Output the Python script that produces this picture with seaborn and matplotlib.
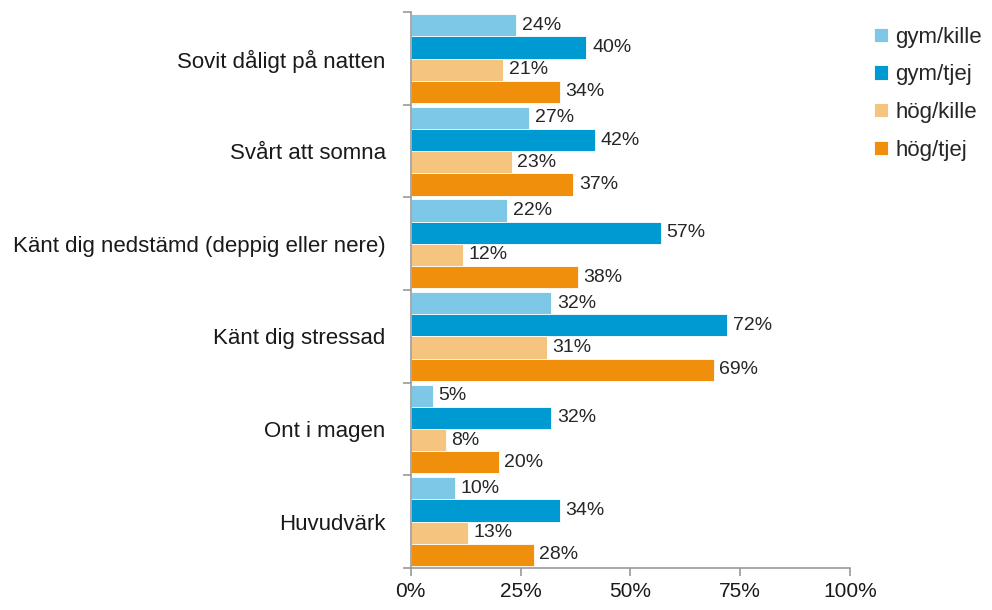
import pandas as pd
import numpy as np
import matplotlib.pyplot as plt
import seaborn as sns

# Data
categories = ["Sovit dåligt på natten", "Svårt att somna",
              "Känt dig nedstämd (deppig eller nere)", "Känt dig stressad",
              "Ont i magen", "Huvudvärk"]
groups = ["gym/kille", "gym/tjej", "hög/kille", "hög/tjej"]
gym_kille = [24, 27, 22, 32, 5, 10]
gym_tjej = [40, 42, 57, 72, 32, 34]
hog_kille = [21, 23, 12, 31, 8, 13]
hog_tjej = [34, 37, 38, 69, 20, 28]
colors = ["#7DC8E6", "#009AD2", "#F5C580", "#F08F0C"]

rows = []
for g, vals in zip(groups, [gym_kille, gym_tjej, hog_kille, hog_tjej]):
    for c, v in zip(categories, vals):
        rows.append({"Kategori": c, "Grupp": g, "Procent": v})
df = pd.DataFrame(rows)

sns.set_style("white")
plt.rcParams["font.family"] = ["Liberation Sans", "DejaVu Sans"]

fig = plt.figure(figsize=(9.92, 6.10), dpi=100)
ax = fig.add_axes([0.414, 0.069, 0.443, 0.911])

sns.barplot(data=df, y="Kategori", x="Procent", hue="Grupp", orient="h",
            palette=colors, saturation=1, width=0.96, order=categories,
            hue_order=groups, edgecolor="white", linewidth=0.6, ax=ax)

for cont in ax.containers:
    ax.bar_label(cont, labels=[f"{int(v)}%" for v in cont.datavalues],
                 padding=4, fontsize=14, color="#262626")

ax.set_xlim(0, 100)
ax.set_ylim(len(categories) - 0.5, -0.5)
ax.set_xticks([0, 25, 50, 75, 100])
ax.set_xticklabels(["0%", "25%", "50%", "75%", "100%"], fontsize=15, color="#1a1a1a")
ax.set_yticks(range(len(categories)))
ax.set_yticklabels(categories, fontsize=16, color="#1a1a1a")
ax.set_yticks(np.arange(-0.5, len(categories), 1), minor=True)
ax.tick_params(axis="y", which="major", length=0, pad=18)
ax.tick_params(axis="y", which="minor", left=True, length=6, width=1.2,
               color="#999999", direction="out")
ax.tick_params(axis="x", length=6, width=1.2, color="#999999", direction="out",
               bottom=True, pad=4)
ax.set_xlabel("")
ax.set_ylabel("")
for s in ["top", "right"]:
    ax.spines[s].set_visible(False)
for s in ["left", "bottom"]:
    ax.spines[s].set_color("#999999")
    ax.spines[s].set_linewidth(1.2)

ax.legend(loc="upper left", bbox_to_anchor=(1.035, 0.99), frameon=False,
          fontsize=16, handlelength=0.6, handleheight=0.6, handletextpad=0.35,
          labelspacing=0.75, borderaxespad=0)

fig.savefig("out.png", dpi=100)
plt.close()
